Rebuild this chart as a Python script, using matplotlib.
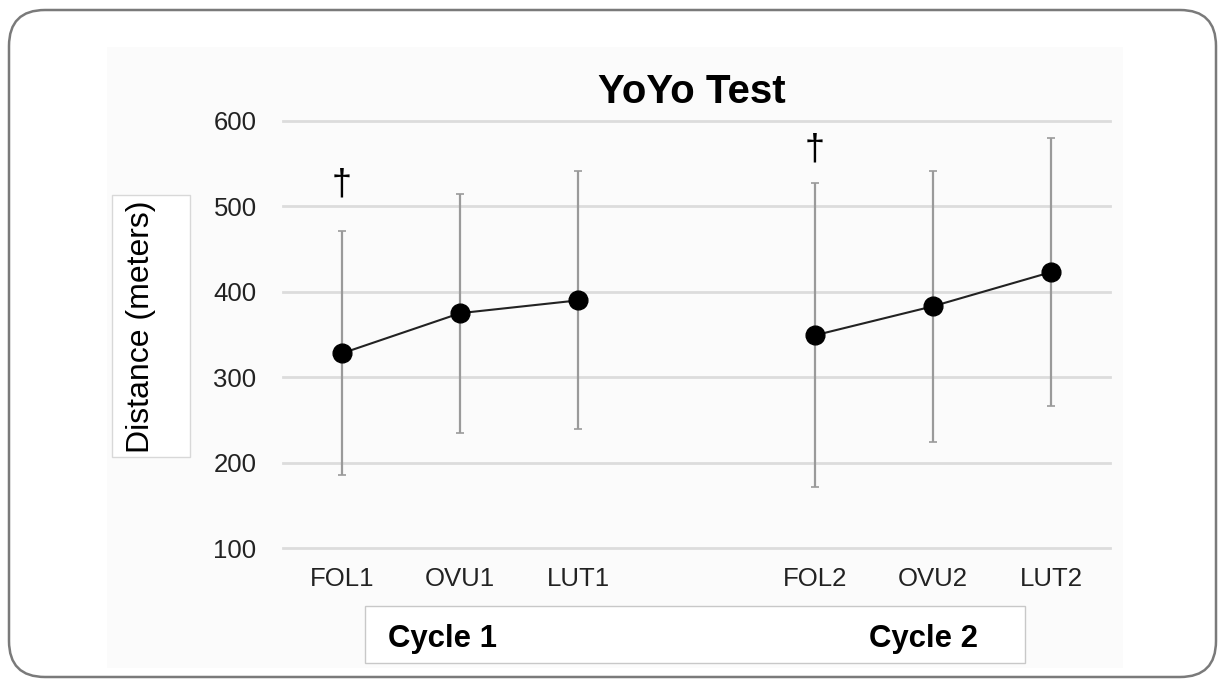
import numpy as np
import matplotlib
matplotlib.use("Agg")
from matplotlib import pyplot as plt
from matplotlib.patches import FancyBboxPatch, Rectangle
from matplotlib.transforms import IdentityTransform

plt.rcParams['font.family'] = ['Liberation Sans', 'DejaVu Sans']

# data
phases = ['FOL1', 'OVU1', 'LUT1', 'FOL2', 'OVU2', 'LUT2']
x_pos = [0, 1, 2, 4, 5, 6]
cycle1_mean = [328, 375, 390]
cycle1_sd = [143, 140, 151]
cycle2_mean = [349, 383, 423]
cycle2_sd = [178, 159, 157]
dagger_phases = ['FOL1', 'FOL2']
dagger_y = [525, 566]

W, H = 1219, 681
fig = plt.figure(figsize=(W / 100, H / 100), dpi=100)

# faint panel + rounded frame
fig.patches.append(Rectangle((107, 13), 1016, 621, transform=IdentityTransform(),
                             facecolor='#fbfbfb', edgecolor='none', zorder=0))
fig.patches.append(FancyBboxPatch((9, 4), 1207, 667, boxstyle='round,pad=0,rounding_size=36',
                                  transform=IdentityTransform(), facecolor='none',
                                  edgecolor='#7a7a7a', linewidth=1.8, zorder=1))

ax = fig.add_axes([283 / W, 1 - 548 / H, (1110 - 283) / W, (548 - 121) / H])
ax.set_zorder(3)
ax.set_facecolor('none')
ax.set_xlim(-0.5, 6.5)
ax.set_ylim(100, 600)
ax.set_yticks([100, 200, 300, 400, 500, 600])
ax.set_xticks(x_pos)
ax.set_xticklabels(phases)
ax.tick_params(axis='both', length=0, labelsize=18.5, labelcolor='#222222')
ax.tick_params(axis='y', pad=19)
ax.tick_params(axis='x', pad=14)
for s in ax.spines.values():
    s.set_visible(False)
ax.yaxis.grid(True, color='#dcdcdc', linewidth=2)
for gl in ax.yaxis.get_gridlines():
    gl.set_clip_on(False)
ax.set_axisbelow(True)

for xs, m, sd in [(x_pos[:3], cycle1_mean, cycle1_sd), (x_pos[3:], cycle2_mean, cycle2_sd)]:
    ax.errorbar(xs, m, yerr=sd, fmt='none', ecolor='#9a9a9a', elinewidth=1.6,
                capsize=3, capthick=1.2, zorder=2)
    ax.plot(xs, m, color='#222222', linewidth=1.5, marker='o', markersize=13.5,
            markerfacecolor='black', markeredgecolor='black', zorder=3)

for p, yv in zip(dagger_phases, dagger_y):
    ax.text(x_pos[phases.index(p)], yv, '\u2020', ha='center', va='center', fontsize=26)

fig.text(692 / W, 1 - 103 / H, 'YoYo Test', ha='center', va='baseline', fontsize=29,
         fontweight='bold')

# y label box
fig.patches.append(Rectangle((112, H - 457), 78, 262, transform=IdentityTransform(),
                             facecolor='white', edgecolor='#d8d8d8', linewidth=1, zorder=1))
fig.text(141 / W, 1 - 327 / H, 'Distance (meters)', rotation=90, ha='center', va='center',
         fontsize=23)

# cycle box
fig.patches.append(Rectangle((365, H - 663), 660, 57, transform=IdentityTransform(),
                             facecolor='white', edgecolor='#c8c8c8', linewidth=1, zorder=1))
fig.text(443 / W, 1 - 647 / H, 'Cycle 1', ha='center', va='baseline', fontsize=22.4,
         fontweight='bold')
fig.text(924 / W, 1 - 647 / H, 'Cycle 2', ha='center', va='baseline', fontsize=22.4,
         fontweight='bold')

fig.savefig('out.png', dpi=100, facecolor='white')
